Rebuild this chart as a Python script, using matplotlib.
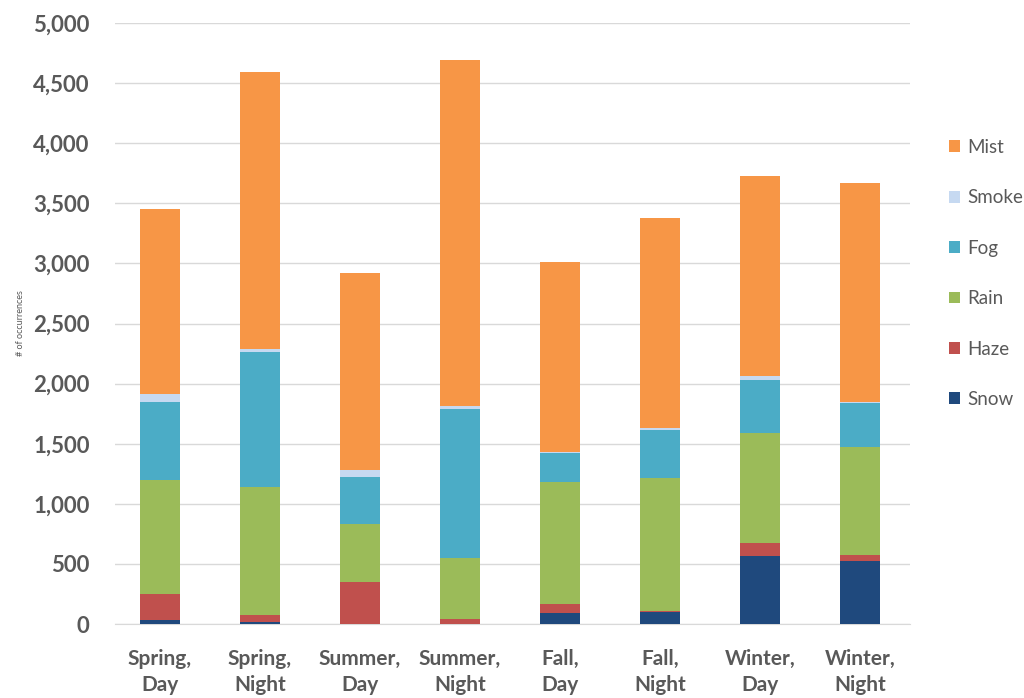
import numpy as np
import matplotlib.pyplot as plt
from matplotlib.patches import Patch

plt.rcParams['font.family'] = ['Lato', 'DejaVu Sans']

categories = ["Spring,\nDay", "Spring,\nNight", "Summer,\nDay", "Summer,\nNight",
              "Fall,\nDay", "Fall,\nNight", "Winter,\nDay", "Winter,\nNight"]
snow = [30, 15, 0, 0, 90, 100, 565, 525]
haze = [220, 60, 350, 40, 75, 10, 110, 50]
rain = [950, 1065, 480, 510, 1015, 1105, 915, 900]
fog = [650, 1120, 395, 1240, 240, 400, 440, 360]
smoke = [60, 30, 55, 20, 15, 15, 30, 15]
mist = [1540, 2300, 1640, 2880, 1575, 1750, 1670, 1815]

series = [("Snow", snow, "#1F497D"), ("Haze", haze, "#C0504D"),
          ("Rain", rain, "#9BBB59"), ("Fog", fog, "#4BACC6"),
          ("Smoke", smoke, "#C6D9F1"), ("Mist", mist, "#F79646")]

fig = plt.figure(figsize=(10.24, 6.98), dpi=100)
ax = fig.add_axes([0.112, 0.106, 0.777, 0.861])

x = np.arange(len(categories))
bottom = np.zeros(len(categories))
for name, vals, color in series:
    ax.bar(x, vals, width=0.4, bottom=bottom, color=color, zorder=3)
    bottom += np.array(vals)

ax.set_ylim(0, 5000)
ax.set_xlim(-0.45, 7.5)
ax.set_yticks(np.arange(0, 5001, 500))
ax.set_yticklabels([f"{v:,}" for v in range(0, 5001, 500)])
ax.set_xticks(x)
ax.set_xticklabels(categories)
ax.yaxis.grid(True, color="#D9D9D9", linewidth=1, zorder=0)
for s in ["top", "right", "left"]:
    ax.spines[s].set_visible(False)
ax.spines["bottom"].set_color("#D9D9D9")
ax.tick_params(axis="both", length=0, colors="#595959")
for lab in ax.get_yticklabels():
    lab.set_fontsize(16)
    lab.set_fontweight("bold")
for lab in ax.get_xticklabels():
    lab.set_fontsize(15)
    lab.set_fontweight("bold")
    lab.set_linespacing(1.4)
ax.tick_params(axis="y", pad=18)
ax.tick_params(axis="x", pad=18)
ax.set_ylabel("# of occurrences", fontsize=6.5, color="#595959", labelpad=6)

handles = [Patch(facecolor=c, label=n) for n, v, c in reversed(series)]
fig.legend(handles=handles, loc="upper left", bbox_to_anchor=(0.91, 0.825),
           frameon=False, fontsize=13.5, labelcolor="#595959", labelspacing=1.78,
           handlelength=0.6, handleheight=0.6, handletextpad=0.4)

fig.savefig("out.png", dpi=100)
